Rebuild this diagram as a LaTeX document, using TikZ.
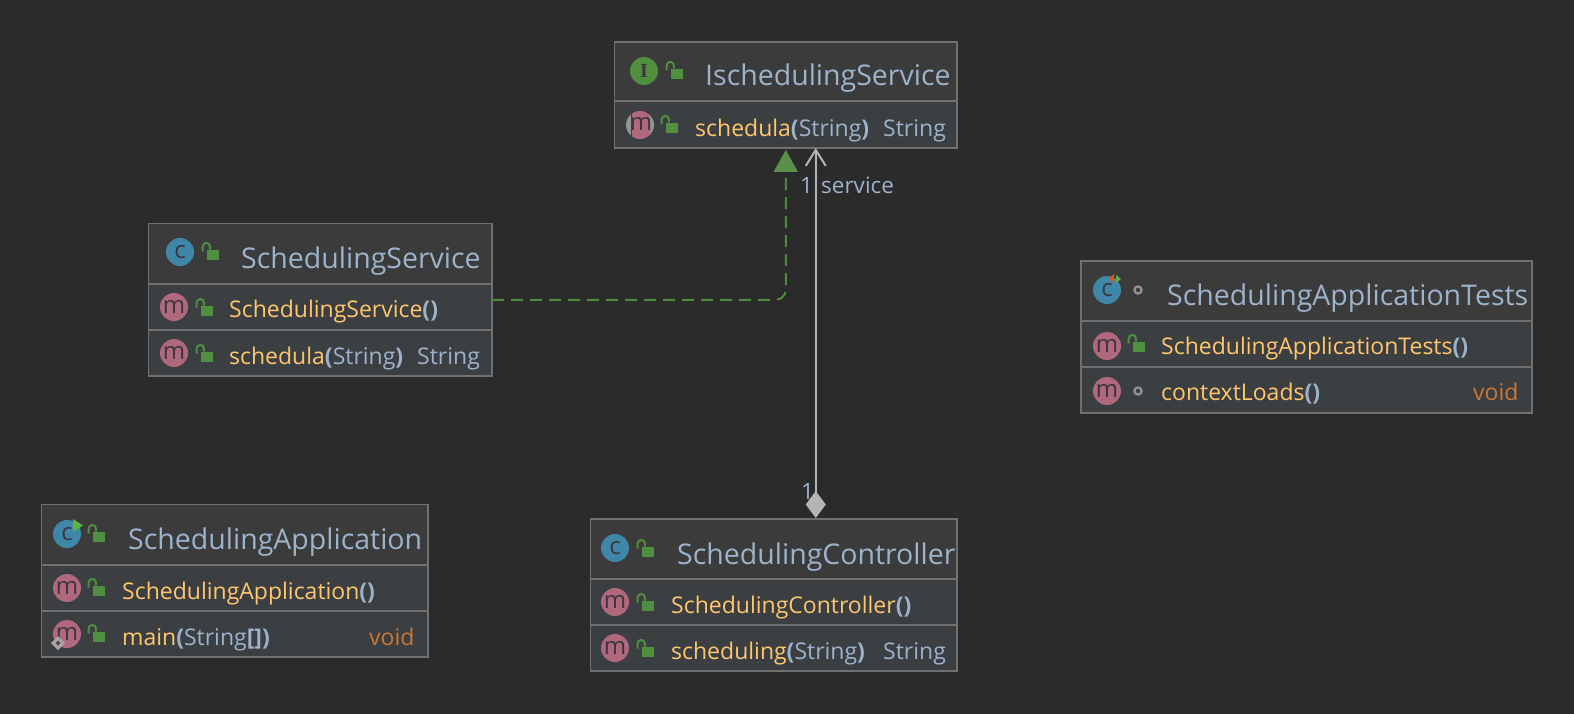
\documentclass[tikz,border=0pt]{standalone}
\usepackage{fontspec}
\setmainfont{Open Sans}
\newfontfamily\serifI{Liberation Serif}
\usetikzlibrary{arrows.meta}
\definecolor{bgc}{HTML}{2B2B2B}
\definecolor{hdrc}{HTML}{3B3B3B}
\definecolor{bodyc}{HTML}{3B3F42}
\definecolor{edgec}{HTML}{707070}
\definecolor{titlec}{HTML}{9DB2CB}
\definecolor{methc}{HTML}{FFC66D}
\definecolor{voidc}{HTML}{CC7832}
\definecolor{linec}{HTML}{B4B4B4}
\definecolor{greenc}{HTML}{4F8F3F}
\definecolor{trianglec}{HTML}{5A8F4C}
\definecolor{pinkc}{HTML}{B0687C}
\definecolor{bluec}{HTML}{3E87A8}
\definecolor{dashc}{HTML}{4E8A3E}
\definecolor{glyphc}{HTML}{3C3440}
\definecolor{playc}{HTML}{5AB446}
\newcommand{\pb}[1]{\textcolor{titlec}{\textbf{#1}}}
\tikzset{
  x=1pt,y=-1pt,
  boxnode/.style={draw=edgec,line width=1.7pt,inner sep=0pt,outer sep=0pt},
  title/.style={anchor=base west,inner sep=0pt,yshift=-2pt,text=titlec,font=\fontsize{28.5}{30}\selectfont},
  meth/.style={anchor=base west,inner sep=0pt,yshift=-1.5pt,text=methc,font=\fontsize{23}{26}\selectfont},
  ret/.style={anchor=base west,inner sep=0pt,yshift=-1.5pt,font=\fontsize{23}{26}\selectfont},
  lbl/.style={anchor=base west,inner sep=0pt,yshift=-1pt,text=titlec,font=\fontsize{22.5}{24}\selectfont},
  icon/.style={circle,minimum size=28pt,inner sep=0pt,outer sep=0pt,text=glyphc},
  icontxt/.style={font=\fontsize{24}{24}\selectfont},
  divider/.style={draw=edgec,line width=1.7pt},
  lockbody/.style={fill=greenc,draw=none},
  lockarc/.style={draw=greenc,line width=2pt},
}
\newcommand{\clsbg}[6]{%
  \fill[hdrc] (#2,#4) rectangle (#3,#5);
  \fill[bodyc] (#2,#5) rectangle (#3,#6);
  \pgfmathsetmacro{\cx}{(#2+#3)/2}\pgfmathsetmacro{\cy}{(#4+#6)/2}%
  \pgfmathsetmacro{\ww}{#3-#2}\pgfmathsetmacro{\hh}{#6-#4}%
  \node[boxnode,minimum width=\ww pt,minimum height=\hh pt] (#1) at (\cx,\cy) {};
  \draw[divider] (#2,#5) -- (#3,#5);
}
\newcommand{\rowline}[3]{\draw[divider] (#1,#3) -- (#2,#3);}
\newcommand{\lockat}[2]{%
  \fill[lockbody] (#1,#2) rectangle ++(11.5,10);
  \draw[lockarc] (#1-4.3,#2+1.5) -- ++(0,-5) arc[start angle=180,end angle=360,x radius=3.6,y radius=3.6] -- ++(0,3);
}
\newcommand{\ringat}[2]{\draw[draw=gray!85!white,line width=2.2pt] (#1,#2) circle[radius=3.6];}
\newcommand{\micon}[2]{\node[icon,fill=pinkc,icontxt] at (#1,#2) {\raisebox{1pt}{m}};}
\newcommand{\cicon}[2]{\node[icon,fill=bluec,icontxt] at (#1,#2) {\raisebox{1pt}{c}};}
\begin{document}
\begin{tikzpicture}
\useasboundingbox (0,0) rectangle (1574,714);
\fill[bgc] (0,0) rectangle (1574,714);

% IschedulingService
\clsbg{isvc}{614.5}{957}{42}{101}{148}
\node[icon,fill=greenc,font=\fontsize{20}{20}\selectfont\serifI\bfseries] at (644,71) {I};
\lockat{671}{69}
\node[title] at (705,84) {IschedulingService};
\fill[gray!85!white] (640,125) circle[radius=14];
\fill[bodyc] (630.5,110) rectangle (650,140);
\begin{scope}
\clip (632,110) rectangle (650,140);
\fill[pinkc] (640,125) circle[radius=14];
\end{scope}
\node[text=glyphc,icontxt] at (641,124) {m};
\lockat{666}{123}
\node[meth] at (695,135) {schedula\pb{(}\textcolor{titlec}{String}\pb{)}};
\node[ret,text=titlec] at (883,135) {String};

% SchedulingService
\clsbg{svc}{148.5}{492}{223.5}{284}{376}
\rowline{148.5}{492}{330}
\cicon{180}{252}
\lockat{207}{250}
\node[title] at (241,266) {SchedulingService};
\micon{174}{307}
\lockat{201}{306}
\node[meth] at (229,316) {SchedulingService\pb{()}};
\micon{174}{353}
\lockat{201}{352}
\node[meth] at (229,363) {schedula\pb{(}\textcolor{titlec}{String}\pb{)}};
\node[ret,text=titlec] at (417,363) {String};

% SchedulingApplicationTests
\clsbg{tests}{1081}{1532}{261}{321}{413}
\rowline{1081}{1532}{367}
\cicon{1107}{290}
\fill[voidc!50!red!90!yellow] (1109,278.5) -- (1114,274) -- (1114,283) -- cycle;
\fill[playc] (1116,275) -- (1121,279) -- (1116,283) -- cycle;
\ringat{1138}{290}
\node[title] at (1167,303) {SchedulingApplicationTests};
\micon{1107}{346}
\lockat{1133}{342}
\node[meth] at (1161,353) {SchedulingApplicationTests\pb{()}};
\micon{1107}{391}
\ringat{1138}{391}
\node[meth] at (1161,399) {contextLoads\pb{()}};
\node[ret,text=voidc] at (1473,399) {void};

% SchedulingApplication
\clsbg{app}{41.5}{428}{504.5}{565}{657}
\rowline{41.5}{428}{611}
\cicon{67}{534}
\fill[playc] (73,519) -- (83,525.5) -- (73,532) -- cycle;
\lockat{93}{532}
\node[title] at (128,547) {SchedulingApplication};
\micon{67}{588}
\lockat{93}{586}
\node[meth] at (122,598) {SchedulingApplication\pb{()}};
\micon{67}{634}
\fill[gray!70!white] (58,636) -- (65,643) -- (58,650) -- (51,643) -- cycle;
\fill[pinkc!60!black] (58,640.5) -- (60.5,643) -- (58,645.5) -- (55.5,643) -- cycle;
\lockat{93}{632}
\node[meth] at (122,644) {main\pb{(}\textcolor{titlec}{String}\pb{[])}};
\node[ret,text=voidc] at (369,644) {void};

% SchedulingController
\clsbg{ctrl}{590.5}{957}{519}{579}{671}
\rowline{590.5}{957}{625}
\cicon{615}{548}
\lockat{642}{547}
\node[title] at (677,562) {SchedulingController};
\micon{615}{602}
\lockat{642}{601}
\node[meth] at (671,612) {SchedulingController\pb{()}};
\micon{615}{648}
\lockat{642}{647}
\node[meth] at (671,658) {scheduling\pb{(}\textcolor{titlec}{String}\pb{)}};
\node[ret,text=titlec] at (883,658) {String};

% connectors
\draw[dashc,line width=2pt,dash pattern=on 12pt off 7pt,rounded corners=10pt,
      -{Triangle[length=22pt,width=24pt,color=trianglec]},shorten >=2pt]
  (svc.east) -| (isvc.south);
\coordinate (assocTop) at ([xshift=30pt]isvc.south);
\draw[linec,line width=2pt,{Diamond[length=27pt,width=20pt]}-{Straight Barb[length=16pt,width=20pt,line width=2pt]},shorten <=1pt]
  (ctrl.north -| assocTop) -- (assocTop);
\node[lbl] at (800,193) {1};
\node[lbl] at (821,193) {service};
\node[lbl] at (801,498) {1};
\end{tikzpicture}
\end{document}
